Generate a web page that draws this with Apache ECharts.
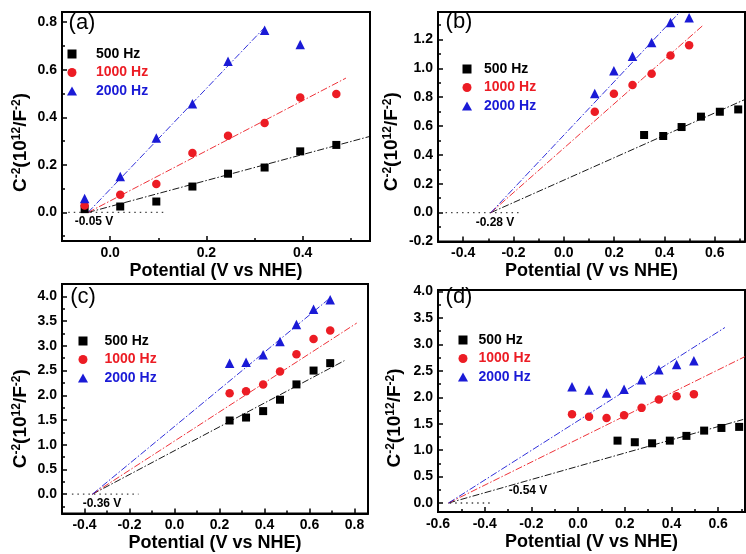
<!DOCTYPE html>
<html>
<head>
<meta charset="utf-8">
<title>Mott-Schottky plots</title>
<script src="https://cdn.jsdelivr.net/npm/echarts@6.0.0/dist/echarts.min.js"></script>
<style>
html, body { margin: 0; padding: 0; background: #fff; }
#chart { width: 746px; height: 554px; }
</style>
</head>
<body>
<div id="chart"></div>
<script>
// legend names, shared by the four panels
var freqNames = ['500 Hz', '1000 Hz', '2000 Hz'];
var panelLetters = ['(a)', '(b)', '(c)', '(d)'];
var flatbandLabels = ['-0.05 V', '-0.28 V', '-0.36 V', '-0.54 V'];

// (a)
var aX = [-0.053, 0.021, 0.096, 0.171, 0.245, 0.321, 0.395, 0.470];
var a500 = [0.014, 0.025, 0.046, 0.109, 0.163, 0.189, 0.257, 0.284];
var a1000 = [0.029, 0.074, 0.120, 0.250, 0.323, 0.376, 0.483, 0.498];
var a2000 = [0.059, 0.151, 0.313, 0.457, 0.636, 0.766, 0.706];
var aFit500 = [[-0.046, 0], [0.54, 0.32]];
var aFit1000 = [[-0.046, 0], [0.49, 0.565]];
var aFit2000 = [[-0.046, 0], [0.322, 0.78]];
var aZero = [[-0.087, 0], [0.115, 0]];

// (b)
var bX500 = [0.319, 0.395, 0.468, 0.545, 0.620, 0.693];
var bX = [0.123, 0.199, 0.273, 0.349, 0.424, 0.498];
var b500 = [0.538, 0.531, 0.593, 0.665, 0.699, 0.715];
var b1000 = [0.699, 0.824, 0.884, 0.962, 1.089, 1.160];
var b2000 = [0.826, 0.983, 1.084, 1.179, 1.318, 1.350];
var bFit500 = [[-0.29, 0], [0.72, 0.784]];
var bFit1000 = [[-0.29, 0], [0.554, 1.299]];
var bFit2000 = [[-0.29, 0], [0.461, 1.39]];
var bZero = [[-0.47, 0], [-0.18, 0]];

// (c)
var cX = [0.245, 0.318, 0.394, 0.469, 0.542, 0.618, 0.692];
var c500 = [1.49, 1.55, 1.68, 1.91, 2.22, 2.50, 2.65];
var c1000 = [2.04, 2.08, 2.22, 2.48, 2.83, 3.14, 3.31];
var c2000 = [2.65, 2.67, 2.82, 3.09, 3.43, 3.74, 3.93];
var cFit500 = [[-0.365, 0], [0.755, 2.70]];
var cFit1000 = [[-0.365, 0], [0.81, 3.46]];
var cFit2000 = [[-0.365, 0], [0.695, 3.98]];
var cZero = [[-0.456, 0], [-0.16, 0]];

// (d)
var dX500 = [0.169, 0.243, 0.317, 0.393, 0.464, 0.540, 0.614, 0.690];
var dX = [-0.026, 0.047, 0.122, 0.197, 0.272, 0.346, 0.422, 0.496];
var d500 = [1.18, 1.15, 1.13, 1.18, 1.27, 1.37, 1.42, 1.44];
var d1000 = [1.68, 1.63, 1.61, 1.66, 1.80, 1.96, 2.02, 2.06];
var d2000 = [2.20, 2.14, 2.08, 2.15, 2.33, 2.52, 2.62, 2.69];
var dFit500 = [[-0.555, 0], [0.707, 1.58]];
var dFit1000 = [[-0.555, 0], [0.715, 2.77]];
var dFit2000 = [[-0.555, 0], [0.629, 3.32]];
var dZero = [[-0.55, 0], [-0.37, 0]];

var FONT = '"Liberation Sans", Arial, sans-serif';
var colors = ['#000000', '#ec1c24', '#1a1ad6'];
var symbols = ['rect', 'circle', 'triangle'];
var symbolSizes = [8, 8.5, 9.5];
// path icons keep their aspect in the legend, built-in rect/triangle get stretched
var legendIcons = ['path://M0,0H1V1H0Z', 'circle', 'path://M0.5,0L1,0.9H0Z'];

function pairs(xs, ys) {
    return ys.map(function (y, i) { return [xs[i], y]; });
}

var panels = [
    {
        grid: { left: 62, top: 12, width: 308, height: 229 },
        xRange: [-0.1, 0.54, 3], yRange: [-0.12, 0.843, 5], nameGap: 31, nameShift: 16,
        xMinLabel: false, yMinLabel: false,
        points: [pairs(aX, a500), pairs(aX, a1000), pairs(aX, a2000)],
        fits: [aFit500, aFit1000, aFit2000], zero: aZero,
        legend: { left: 67, top: 47, itemWidth: 38 },
        letter: [82, 23], note: [94, 222]
    },
    {
        grid: { left: 438, top: 12, width: 307, height: 229.5 },
        xRange: [-0.5, 0.72, 6], yRange: [-0.2, 1.39, 8], nameGap: 36, nameShift: 15,
        xMinLabel: false, yMinLabel: true,
        points: [pairs(bX500, b500), pairs(bX, b1000), pairs(bX, b2000)],
        fits: [bFit500, bFit1000, bFit2000], zero: bZero,
        legend: { left: 462, top: 62, itemWidth: 24 },
        letter: [459, 22], note: [495, 223]
    },
    {
        grid: { left: 62, top: 284, width: 306, height: 229.5 },
        xRange: [-0.5, 0.86, 7], yRange: [-0.39, 4.25, 9], nameGap: 31, nameShift: 20,
        xMinLabel: false, yMinLabel: false,
        points: [pairs(cX, c500), pairs(cX, c1000), pairs(cX, c2000)],
        fits: [cFit500, cFit1000, cFit2000], zero: cZero,
        legend: { left: 78, top: 334, itemWidth: 33 },
        letter: [83, 297], note: [102, 504]
    },
    {
        grid: { left: 438, top: 290, width: 307, height: 222 },
        xRange: [-0.6, 0.715, 7], yRange: [-0.17, 4.03, 8], nameGap: 33, nameShift: 17,
        xMinLabel: true, yMinLabel: false,
        points: [pairs(dX500, d500), pairs(dX, d1000), pairs(dX, d2000)],
        fits: [dFit500, dFit1000, dFit2000], zero: dZero,
        legend: { left: 458, top: 333, itemWidth: 21 },
        letter: [459, 297], note: [528, 491]
    }
];

var labelFmt = function (v) { return v.toFixed(1); };
var axisLine = { onZero: false, lineStyle: { color: '#000', width: 2 } };
var axisTick = { inside: true, length: 5, lineStyle: { color: '#000', width: 1.5 } };
var minorTick = { show: true, splitNumber: 2, length: 3, lineStyle: { color: '#000', width: 1.5 } };

function tickLabel(showMin) {
    return {
        color: '#000', fontFamily: FONT, fontWeight: 'bold', fontSize: 14, margin: 5,
        showMinLabel: showMin, showMaxLabel: false, formatter: labelFmt
    };
}

var option = {
    backgroundColor: '#fff',
    animation: false,
    grid: [], xAxis: [], yAxis: [], legend: [], series: [], graphic: []
};

panels.forEach(function (p, i) {
    option.grid.push(Object.assign({
        show: true, borderColor: '#000', borderWidth: 2, containLabel: false
    }, p.grid));

    option.xAxis.push({
        type: 'value', gridIndex: i, min: p.xRange[0], max: p.xRange[1], splitNumber: p.xRange[2],
        name: 'Potential (V vs NHE)', nameLocation: 'middle', nameGap: 21,
        nameTextStyle: { color: '#000', fontFamily: FONT, fontWeight: 'bold', fontSize: 18, verticalAlign: 'top' },
        axisLine: axisLine, axisTick: axisTick, minorTick: minorTick,
        axisLabel: tickLabel(p.xMinLabel),
        splitLine: { show: false }
    });

    option.yAxis.push({
        type: 'value', gridIndex: i, min: p.yRange[0], max: p.yRange[1], splitNumber: p.yRange[2],
        name: 'C{s|-2}(10{s|12}/F{s|-2})', nameLocation: 'middle', nameGap: p.nameGap, nameRotate: 90,
        nameTextStyle: {
            color: '#000', fontFamily: FONT, fontWeight: 'bold', fontSize: 19, lineHeight: 20,
            padding: [0, 2 * p.nameShift, 0, 0],
            rich: { s: { fontFamily: FONT, fontWeight: 'bold', fontSize: 12, lineHeight: 12, verticalAlign: 'top', color: '#000' } }
        },
        axisLine: axisLine, axisTick: axisTick, minorTick: minorTick,
        axisLabel: tickLabel(p.yMinLabel),
        splitLine: { show: false }
    });

    option.legend.push({
        orient: 'vertical', left: p.legend.left, top: p.legend.top,
        itemWidth: p.legend.itemWidth, itemHeight: 9, itemGap: 4.5, padding: 0,
        selectedMode: false, symbolKeepAspect: true,
        textStyle: { fontFamily: FONT, fontWeight: 'bold', fontSize: 14, lineHeight: 14 },
        data: freqNames.map(function (n, k) {
            return { name: n, icon: legendIcons[k], textStyle: { color: colors[k] } };
        })
    });

    option.series.push({
        type: 'line', xAxisIndex: i, yAxisIndex: i, data: p.zero, symbol: 'none', silent: true,
        lineStyle: { color: '#444', width: 1.3, type: [1.5, 4] }, z: 1
    });

    p.fits.forEach(function (f, k) {
        option.series.push({
            type: 'line', xAxisIndex: i, yAxisIndex: i, data: f, symbol: 'none', silent: true,
            lineStyle: { color: colors[k], width: 1, type: [7, 2, 1.5, 2], opacity: 0.9 }, z: 2
        });
    });

    p.points.forEach(function (pts, k) {
        option.series.push({
            type: 'scatter', name: freqNames[k], xAxisIndex: i, yAxisIndex: i, data: pts,
            symbol: symbols[k], symbolSize: symbolSizes[k],
            itemStyle: { color: colors[k], opacity: 1 }, z: 3
        });
    });

    option.graphic.push({
        type: 'text', x: p.letter[0], y: p.letter[1], z: 10,
        style: { text: panelLetters[i], font: '22px ' + FONT, fill: '#000', align: 'center', verticalAlign: 'middle' }
    });
    option.graphic.push({
        type: 'text', x: p.note[0], y: p.note[1], z: 10,
        style: { text: flatbandLabels[i], font: 'bold 12px ' + FONT, fill: '#000', align: 'center', verticalAlign: 'middle' }
    });
});

var chart = echarts.init(document.getElementById('chart'), null, { renderer: 'canvas' });
chart.setOption(option);
</script>
</body>
</html>
